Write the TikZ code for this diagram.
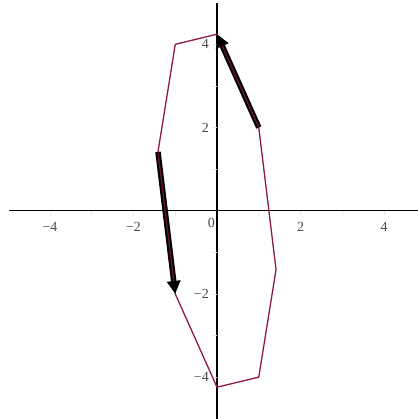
\documentclass[tikz,border=0pt]{standalone}
\usepackage{fontspec}
\setmainfont{Liberation Serif}
\usetikzlibrary{arrows.meta}
\definecolor{curve}{RGB}{140,28,58}
\definecolor{core}{RGB}{110,20,40}
\definecolor{lbl}{RGB}{75,75,75}
\tikzset{
  axis/.style={line width=1.1bp, black},
  tick/.style={line width=0.6bp, black!10},
  poly/.style={line width=1.3bp, curve},
  arrowbody/.style={line width=5.5bp, black, -{Triangle[length=13bp,width=13bp]}},
  arrowcore/.style={line width=1.3bp, core, shorten >=13bp, shorten <=1bp},
  lab/.style={font=\fontsize{14}{15}\selectfont, text=lbl, inner sep=0pt}
}
\begin{document}
\begin{tikzpicture}[x=41.75bp, y=41.6bp]
\useasboundingbox (-5.198,-5.007) rectangle (4.814,5.065);
% axes
\coordinate (xl) at (-4.98,0);
\coordinate (xr) at (4.814,0);
\coordinate (yt) at (0,4.99);
\coordinate (yb) at (0,-5.007);
\draw[axis] (xl) -- (xr);
\draw[axis] (yb) -- (yt);
% faint ticks
\foreach \i in {-4,-3,-2,-1,1,2,3,4} {
  \draw[tick] (\i,0) -- ++(0,-4bp);
  \draw[tick] (0,\i) -- ++(-4bp,0);
}
% labels
\foreach \i/\t in {-4/−4,-2/−2,2/2,4/4} {
  \node[lab, anchor=north] (xlab\i) at ([yshift=-11bp]\i,0) {\t};
  \node[lab, anchor=east] (ylab\i) at ([xshift=-8bp]0,\i) {\t};
}
\node[lab, anchor=north east] (zero) at (-2bp,-7bp) {0};
% polygon vertices
\coordinate (p1) at (0,4.243);
\coordinate (p2) at (-1,4);
\coordinate (p3) at (-1.414,1.414);
\coordinate (p4) at (-1,-2);
\coordinate (p5) at (0,-4.243);
\coordinate (p6) at (1,-4);
\coordinate (p7) at (1.414,-1.414);
\coordinate (p8) at (1,2);
\draw[poly, line join=miter] (p1) -- (p2) -- (p3) -- (p4) -- (p5) -- (p6) -- (p7) -- (p8) -- cycle;
% arrows
\draw[arrowbody] (p8) -- (p1);
\draw[arrowcore] (p8) -- (p1);
\draw[arrowbody] (p3) -- (p4);
\draw[arrowcore] (p3) -- (p4);
\end{tikzpicture}
\end{document}
